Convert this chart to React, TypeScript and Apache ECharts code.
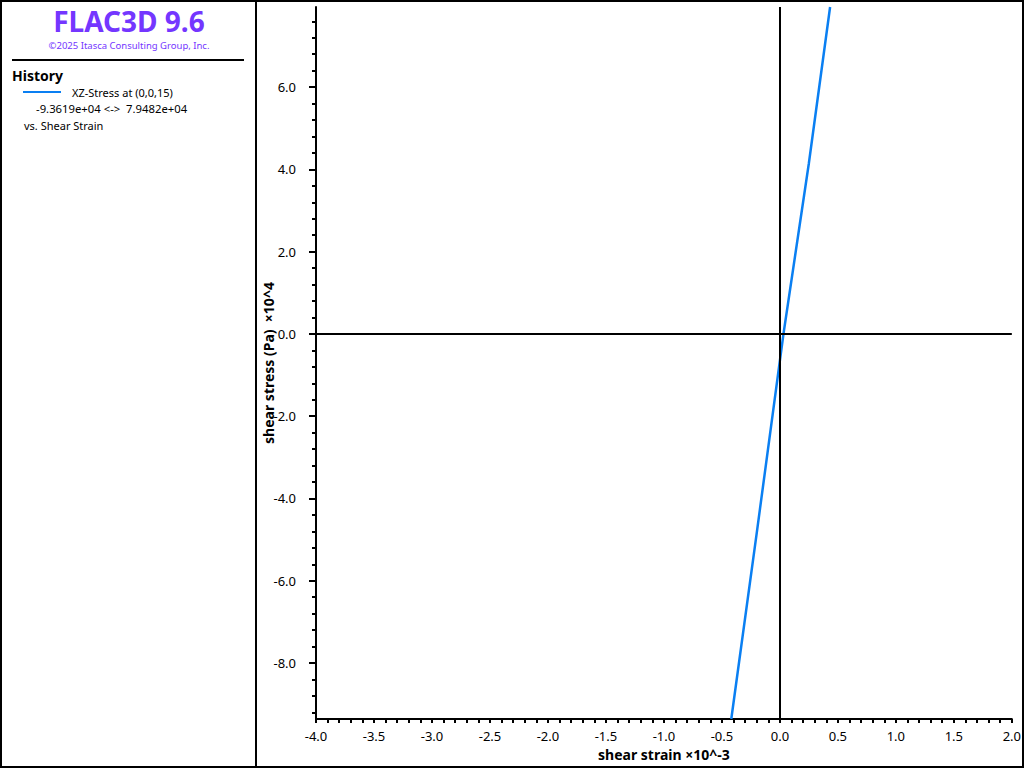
import React, { useEffect, useRef } from "react";
import * as echarts from "echarts";

// Data (shear strain ×10^-3 vs shear stress ×10^4 Pa)
const strainX = [-0.419, -0.2, 0.031, 0.25, 0.433];
const stressY = [-9.3619, -4.85, 0, 4.15, 7.9482];

const xMin = -4.0;
const xMax = 2.0;
const yMin = -9.3619;
const yMax = 7.9482;
const yMajorTicks = [-8, -6, -4, -2, 0, 2, 4, 6];
const legendLabel = "XZ-Stress at (0,0,15)";
const rangeLabel = "-9.3619e+04 <->  7.9482e+04";
const vsLabel = "vs. Shear Strain";

const FONT = "'Noto Sans', 'Open Sans', sans-serif";
const LINE_BLUE = "#0a7ff2";
const PURPLE = "#7436ff";

export default function App() {
  const ref = useRef<HTMLDivElement>(null);
  useEffect(() => {
    if (!ref.current) return;
    const chart = echarts.init(ref.current, null, { renderer: "svg" });
    const yMinorTicks: number[] = [];
    for (let k = Math.ceil(yMin / 0.4); k * 0.4 <= yMax; k++) {
      yMinorTicks.push(Math.round(k * 0.4 * 10) / 10);
    }
    const data = strainX.map((x, i) => [x, stressY[i]]);
    const option: any = {
      animation: false,
      backgroundColor: "#ffffff",
      textStyle: { fontFamily: FONT },
      grid: { left: 316, right: 11, top: 7, bottom: 49, containLabel: false },
      xAxis: {
        type: "value",
        min: xMin,
        max: xMax,
        interval: 0.5,
        splitLine: { show: false },
        axisLine: { show: true, onZero: false, lineStyle: { color: "#000", width: 2 } },
        axisTick: { show: true, length: 4, inside: false, lineStyle: { color: "#000", width: 2 } },
        minorTick: { show: true, splitNumber: 5, length: 4, lineStyle: { color: "#000", width: 2 } },
        axisLabel: {
          color: "#000",
          fontSize: 13,
          fontFamily: FONT,
          margin: 10,
          formatter: (v: number) => v.toFixed(1),
        },
        name: "shear strain ×10^-3",
        nameLocation: "middle",
        nameGap: 28,
        nameMoveOverlap: false,
        nameTextStyle: { color: "#000", fontWeight: "bold", fontSize: 14, fontFamily: FONT },
      },
      yAxis: [
        {
          type: "value",
          min: yMin,
          max: yMax,
          position: "left",
          splitLine: { show: false },
          axisLine: { show: true, onZero: false, lineStyle: { color: "#000", width: 2 } },
          axisTick: {
            show: true,
            length: 7,
            customValues: yMajorTicks,
            lineStyle: { color: "#000", width: 2 },
          },
          axisLabel: {
            color: "#000",
            fontSize: 13,
            fontFamily: FONT,
            margin: 20,
            customValues: yMajorTicks,
            formatter: (v: number) => v.toFixed(1),
          },
          name: "shear stress (Pa)  ×10^4",
          nameLocation: "middle",
          nameGap: 41,
          nameRotate: 90,
          nameMoveOverlap: false,
          nameTextStyle: { color: "#000", fontWeight: "bold", fontSize: 14, fontFamily: FONT },
        },
        {
          type: "value",
          min: yMin,
          max: yMax,
          position: "left",
          splitLine: { show: false },
          axisLine: { show: false, onZero: false },
          axisTick: {
            show: true,
            length: 4,
            customValues: yMinorTicks,
            lineStyle: { color: "#000", width: 2 },
          },
          axisLabel: { show: false },
        },
      ],
      series: [
        {
          type: "line",
          data,
          xAxisIndex: 0,
          yAxisIndex: 0,
          showSymbol: false,
          symbol: "none",
          lineStyle: { color: LINE_BLUE, width: 2.5 },
          markLine: {
            silent: true,
            symbol: "none",
            label: { show: false },
            lineStyle: { color: "#000", width: 2, type: "solid" },
            data: [{ xAxis: 0 }, { yAxis: 0 }],
          },
          z: 3,
        },
      ],
      graphic: [
        {
          type: "rect",
          shape: { x: 1, y: 1, width: 1022, height: 766 },
          style: { fill: "none", stroke: "#000", lineWidth: 2 },
          silent: true,
        },
        {
          type: "line",
          shape: { x1: 256, y1: 0, x2: 256, y2: 768 },
          style: { stroke: "#000", lineWidth: 2 },
          silent: true,
        },
        {
          type: "line",
          shape: { x1: 12, y1: 60, x2: 244, y2: 60 },
          style: { stroke: "#000", lineWidth: 2 },
          silent: true,
        },
        {
          type: "text",
          x: 129,
          y: 21,
          style: {
            text: "FLAC3D 9.6",
            fill: PURPLE,
            font: `bold 28px ${FONT}`,
            align: "center",
            verticalAlign: "middle",
          },
        },
        {
          type: "text",
          x: 129,
          y: 45,
          style: {
            text: "©2025 Itasca Consulting Group, Inc.",
            fill: PURPLE,
            font: `9.5px ${FONT}`,
            align: "center",
            verticalAlign: "middle",
          },
        },
        {
          type: "text",
          x: 12,
          y: 75,
          style: {
            text: "History",
            fill: "#000",
            font: `bold 14px ${FONT}`,
            align: "left",
            verticalAlign: "middle",
          },
        },
        {
          type: "line",
          shape: { x1: 23, y1: 92, x2: 61, y2: 92 },
          style: { stroke: LINE_BLUE, lineWidth: 2 },
        },
        {
          type: "text",
          x: 72,
          y: 92,
          style: { text: legendLabel, fill: "#000", font: `11px ${FONT}`, align: "left", verticalAlign: "middle" },
        },
        {
          type: "text",
          x: 36,
          y: 108,
          style: { text: rangeLabel, fill: "#000", font: `11.3px ${FONT}`, align: "left", verticalAlign: "middle" },
        },
        {
          type: "text",
          x: 24,
          y: 125,
          style: { text: vsLabel, fill: "#000", font: `11px ${FONT}`, align: "left", verticalAlign: "middle" },
        },
      ],
    };
    chart.setOption(option);
    return () => chart.dispose();
  }, []);
  return (
    <div
      ref={ref}
      style={{ position: "absolute", left: 0, top: 0, width: 1024, height: 768, background: "#fff" }}
    />
  );
}
